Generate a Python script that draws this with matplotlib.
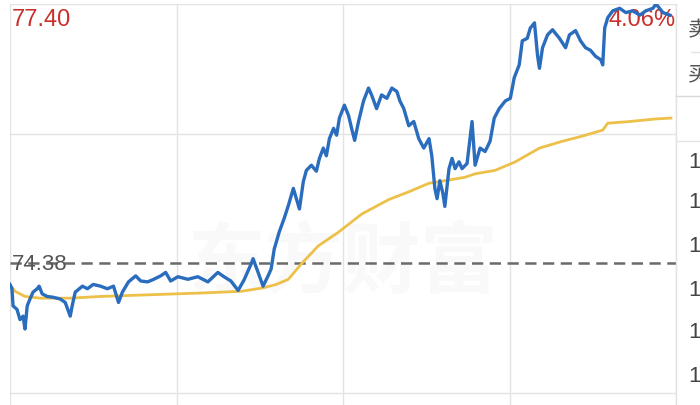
import matplotlib.pyplot as plt

# intraday price (minute index since open, price)
price_min = [0, 0.7, 1.1, 2.5, 3.6, 4.7, 5.4, 6.2, 7.2, 8.3, 9.8, 10.5, 11.6, 13.4, 15.6,
             18.1, 19.9, 21.7, 22.4, 23.5, 26.1, 27.9, 30.0, 32.6, 35.1, 37.3, 39.1, 40.5,
             42.7, 45.3, 47.1, 49.6, 51.8, 54.3, 56.1, 57.9, 60.5, 64.1, 67.7, 71.3, 74.9,
             77.1, 79.6, 82.2, 84.3, 86.9, 87.6, 89.4, 91.2, 93.0, 94.1, 95.2, 97.0, 98.8,
             100.3, 102.1, 103.2, 104.3, 105.7, 106.8, 108.6, 110.4, 111.5, 112.9, 114.0,
             115.1, 116.6, 117.7, 118.7, 120.5, 122.0, 123.1, 124.2, 125.6, 127.4, 129.2,
             130.3, 132.1, 133.9, 135.8, 137.6, 139.4, 140.5, 141.9, 143.7, 145.5, 147.3,
             149.1, 151.0, 152.0, 153.1, 153.9, 154.9, 156.0, 156.7, 158.2, 159.3, 160.4,
             161.8, 162.9, 164.7, 166.5, 167.6, 169.4, 171.2, 173.0, 174.5, 176.3, 178.5,
             180.3, 181.7, 183.5, 184.6, 186.4, 187.5, 189.0, 190.1, 190.8, 191.9, 193.7,
             195.5, 198.0, 200.2, 201.6, 203.8, 205.6, 207.4, 209.2, 211.0, 212.9, 213.6,
             214.3, 215.4, 217.2, 219.7, 221.9, 224.4, 227.0, 229.1, 231.7, 232.8, 235.3,
             237.8]
price = [74.13, 74.08, 73.88, 73.84, 73.72, 73.76, 73.61, 73.88, 73.96, 74.04, 74.08, 74.11,
         74.02, 73.99, 73.98, 73.96, 73.92, 73.76, 73.88, 74.04, 74.11, 74.08, 74.13, 74.11,
         74.08, 74.11, 73.92, 74.04, 74.16, 74.23, 74.17, 74.16, 74.19, 74.23, 74.27, 74.17,
         74.22, 74.19, 74.22, 74.16, 74.27, 74.22, 74.17, 74.06, 74.18, 74.37, 74.43, 74.27,
         74.11, 74.23, 74.31, 74.54, 74.74, 74.90, 75.05, 75.25, 75.13, 75.01, 75.33, 75.46,
         75.52, 75.45, 75.60, 75.72, 75.63, 75.83, 75.95, 75.87, 76.07, 76.22, 76.10, 75.95,
         75.81, 76.03, 76.27, 76.42, 76.34, 76.18, 76.34, 76.30, 76.42, 76.38, 76.27, 76.18,
         75.98, 76.03, 75.83, 75.72, 75.83, 75.63, 75.25, 75.13, 75.34, 75.19, 75.04, 75.48,
         75.60, 75.48, 75.56, 75.48, 75.54, 76.03, 75.52, 75.72, 75.68, 75.80, 76.07, 76.18,
         76.27, 76.30, 76.54, 76.69, 76.97, 77.00, 77.12, 77.18, 76.80, 76.65, 76.89, 77.04,
         77.10, 77.00, 76.89, 77.04, 77.09, 76.97, 76.89, 76.86, 76.79, 76.75, 76.69, 77.12,
         77.24, 77.32, 77.35, 77.30, 77.32, 77.27, 77.32, 77.35, 77.40, 77.30, 77.27]

# average price line
avg_min = [0, 1.8, 5.4, 10.9, 21.7, 32.6, 50.7, 68.8, 83.3, 91.2, 95.9, 100.3, 105.0, 111.1,
           118.4, 126.7, 136.5, 143.7, 151.0, 156.7, 164.0, 167.6, 174.8, 182.1, 190.8,
           199.1, 206.3, 213.6, 215.4, 223.4, 232.8, 238.2]
avg = [74.13, 74.05, 73.99, 73.97, 73.97, 73.99, 74.01, 74.03, 74.05, 74.09, 74.13, 74.19,
       74.37, 74.58, 74.74, 74.95, 75.12, 75.21, 75.31, 75.34, 75.38, 75.42, 75.46, 75.56,
       75.72, 75.80, 75.86, 75.93, 76.01, 76.03, 76.06, 76.07]

prev_close = 74.38
high_price = 77.40
high_pct = '4.06%'
side_digits = ['1', '1', '1', '1', '1', '1']

fig = plt.figure(figsize=(7, 4.06), dpi=100)
fig.patch.set_facecolor('white')
W, H = 700, 406

def fx(px):
    return px / W

def fy(py):
    return 1 - py / H

ax = fig.add_axes([fx(10), 0, fx(666), 1 - 5 / H])
ax.set_xlim(0, 240)
span = high_price - prev_close
ax.set_ylim(prev_close - span * 142 / 259, high_price)
ax.axis('off')

grid = '#e3e3e3'
for m in [0, 60, 120, 180, 240]:
    ax.axvline(m, color=grid, lw=1, zorder=1)
for p in [high_price, prev_close + span / 2, prev_close - span / 2]:
    ax.axhline(p, color=grid, lw=1, zorder=1)

# watermark
ax.text(120, prev_close, '东方财富', family=['Noto Sans CJK SC'], fontsize=56,
        fontweight='bold', color='#000000', alpha=0.025, ha='center', va='center', zorder=1)

ax.axhline(prev_close, color='#6a6a6a', lw=1.8, ls=(0, (4.5, 2.6)), zorder=2)

ax.text(0.5, high_price - 0.05, '%.2f' % high_price, family='Liberation Sans', fontsize=17,
        color='#c9302c', ha='left', va='top', zorder=3)
ax.text(240, high_price - 0.05, high_pct, family='Liberation Sans', fontsize=17,
        color='#c9302c', ha='right', va='top', zorder=3)
ax.text(0.5, prev_close, '%.2f' % prev_close, family='Liberation Sans', fontsize=16,
        color='#555555', ha='left', va='center', zorder=5)

ax.plot(avg_min, avg, color='#edc04a', lw=2, zorder=4)
ax.plot(price_min, price, color='#2a6cbd', lw=2.4, zorder=4, solid_joinstyle='round')

# cut-off side panel
fig.add_artist(plt.Line2D([fx(676), fx(676)], [0, fy(5)], color=grid, lw=1))
fig.add_artist(plt.Line2D([fx(676), 1], [fy(97), fy(97)], color='#d8d8d8', lw=1))
fig.add_artist(plt.Line2D([fx(676), 1], [fy(142), fy(142)], color=grid, lw=1))
fig.add_artist(plt.Line2D([fx(691), 1], [fy(53), fy(53)], color=grid, lw=1))
fig.text(fx(688), fy(30), '卖', family=['Noto Sans CJK SC'], fontsize=15, color='#555555',
         va='center')
fig.text(fx(688), fy(74), '买', family=['Noto Sans CJK SC'], fontsize=15, color='#555555',
         va='center')
for d, py in zip(side_digits, [163, 203, 247, 290, 333, 377]):
    fig.text(fx(688), fy(py), d, family='Liberation Sans', fontsize=16, color='#444444',
             va='center')

fig.savefig('out.png', dpi=100)
